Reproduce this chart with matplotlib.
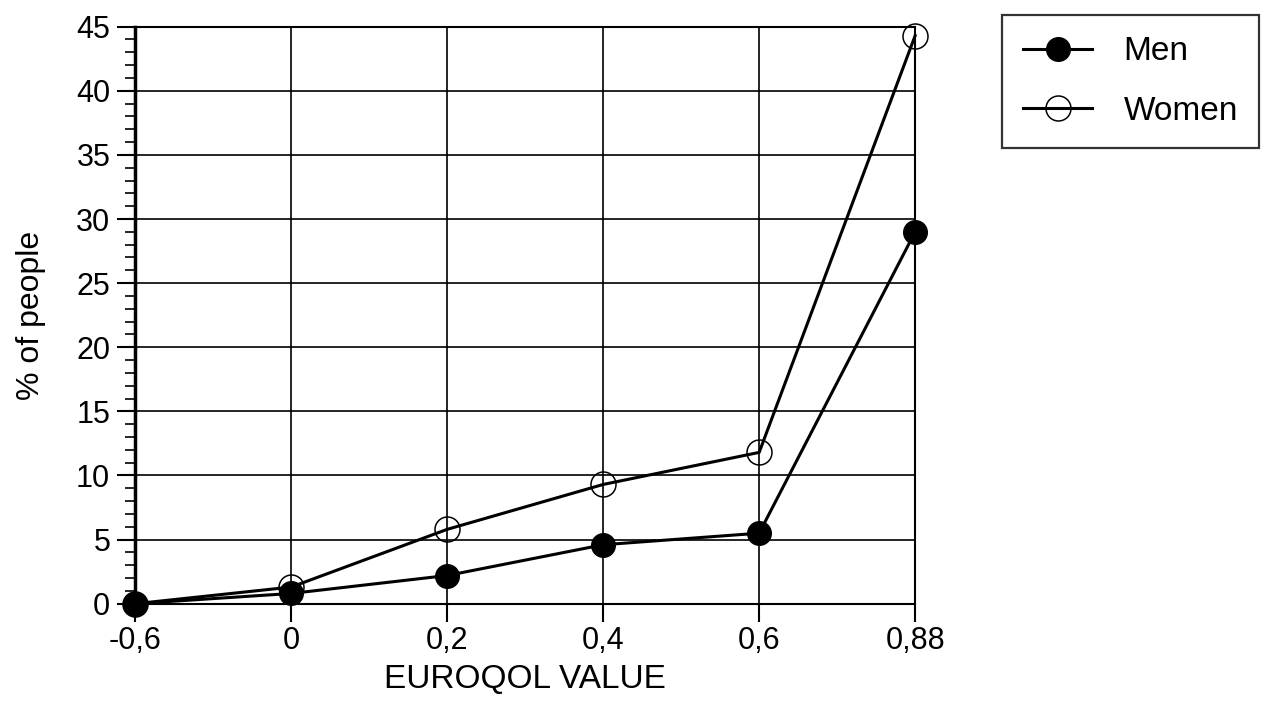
import matplotlib.pyplot as plt
from matplotlib.ticker import MultipleLocator

plt.rcParams['font.family'] = ['Liberation Sans', 'DejaVu Sans']

# data
euroqol = ['-0,6', '0', '0,2', '0,4', '0,6', '0,88']
men = [0.0, 0.8, 2.2, 4.6, 5.5, 29.0]
women = [0.0, 1.3, 5.8, 9.3, 11.8, 44.3]

fig = plt.figure(figsize=(12.64, 7.02), dpi=100)
ax = fig.add_axes([0.107, 0.14, 0.617, 0.822])

x = list(range(len(euroqol)))
ax.plot(x, men, color='black', lw=2.2, marker='o', ms=17,
        mfc='black', mec='black', label='Men', zorder=3, clip_on=False)
ax.plot(x, women, color='black', lw=2.2, marker='o', ms=18,
        mfc='none', mec='black', mew=1.1, label='Women', zorder=3, clip_on=False)

ax.set_xlim(0, len(euroqol) - 1)
ax.set_ylim(0, 45)
ax.set_xticks(x)
ax.set_xticklabels(euroqol)
ax.yaxis.set_major_locator(MultipleLocator(5))
ax.yaxis.set_minor_locator(MultipleLocator(1))

ax.grid(True, which='major', color='black', lw=1.2)
for s in ax.spines.values():
    s.set_linewidth(1.5)
ax.spines['left'].set_linewidth(2.5)

ax.tick_params(axis='both', which='major', direction='out', length=13, width=1.5,
               labelsize=22, colors='black')
ax.tick_params(axis='y', which='minor', direction='out', length=7, width=1.2)
ax.tick_params(axis='y', pad=5)
ax.tick_params(axis='x', pad=3)

ax.set_xlabel('EUROQOL VALUE', fontsize=24, labelpad=6)
ax.set_ylabel('% of people', fontsize=23, labelpad=22)

leg = ax.legend(loc='upper left', bbox_to_anchor=(1.111, 1.021), fontsize=24,
                frameon=True, fancybox=False, edgecolor='black',
                handlelength=2.05, handletextpad=0.95, borderpad=0.65,
                labelspacing=0.85, borderaxespad=0)
leg.get_frame().set_linewidth(1.6)

fig.savefig('out.png', dpi=100)
